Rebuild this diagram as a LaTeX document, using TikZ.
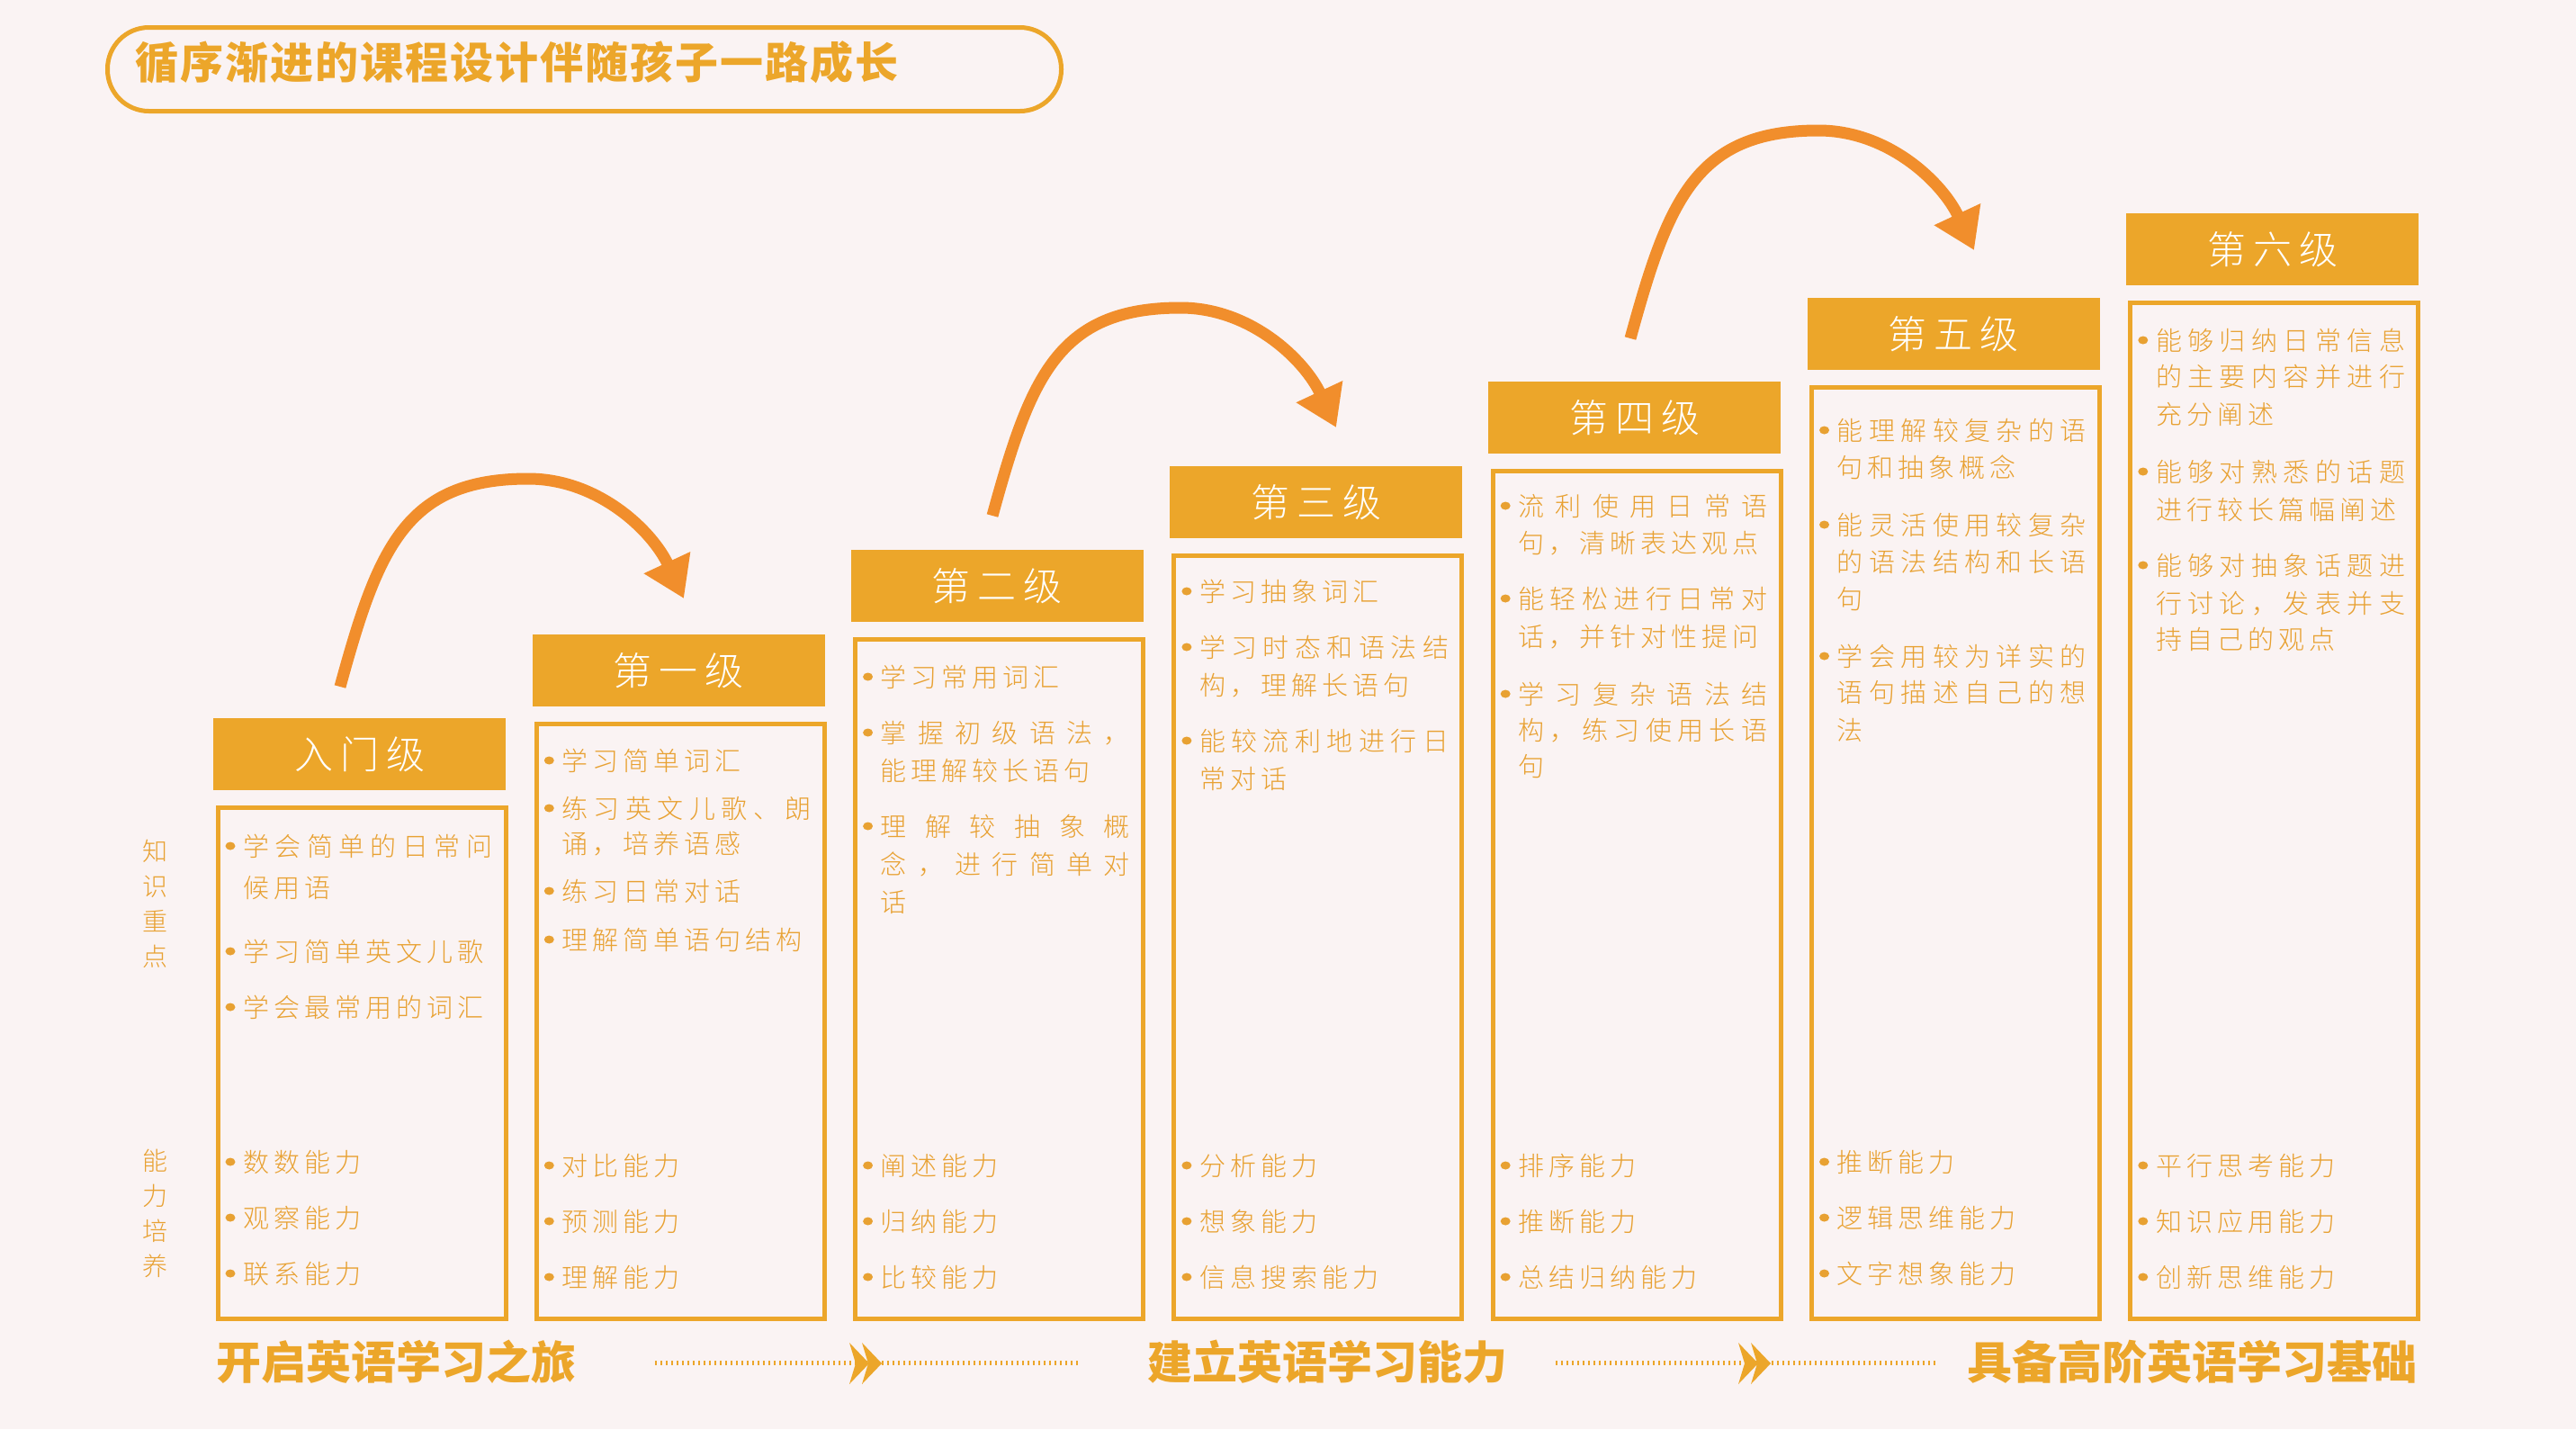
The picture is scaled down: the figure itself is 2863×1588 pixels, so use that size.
\documentclass[tikz,border=0pt]{standalone}
\usepackage{fontspec}
\newfontfamily\cjk{Noto Sans CJK SC}
\IfFontExistsTF{Noto Sans CJK SC Light}{\newfontfamily\cjklt{Noto Sans CJK SC Light}}{\newfontfamily\cjklt{Noto Sans CJK SC}}
\usetikzlibrary{arrows.meta}
\definecolor{bg}{RGB}{250,243,243}
\definecolor{hdr}{RGB}{236,166,42}
\definecolor{txt}{RGB}{232,161,50}
\definecolor{arr}{RGB}{241,142,44}
\newdimen\cjkgap
\cjkgap=5pt
\ExplSyntaxOn
\bool_new:N \l_cjkfirst_bool
\NewDocumentCommand\cjkl{m}{
  \bool_set_true:N \l_cjkfirst_bool
  \tl_map_inline:nn {#1}{
    \bool_if:NTF \l_cjkfirst_bool {\bool_set_false:N \l_cjkfirst_bool}{\hskip\cjkgap plus 1fil\relax}
    ##1}
}
\ExplSyntaxOff
\tikzset{
  body/.style={text=txt, font=\cjklt\fontsize{29}{34}\selectfont, inner sep=0pt, anchor=base west},
  hdrbox/.style={fill=hdr, draw=none, inner sep=0pt, minimum width=325pt, minimum height=80pt, anchor=north west,
                 text=white, font=\cjklt\fontsize{43}{48}\selectfont},
  bodybox/.style={draw=hdr, line width=5pt, inner sep=0pt, minimum width=320pt, anchor=north west},
  sidelabel/.style={text=txt, font=\cjklt\fontsize{28}{39}\selectfont, align=center, inner sep=0pt},
  bigtxt/.style={text=hdr, font=\cjk\bfseries\fontsize{50}{60}\selectfont, inner sep=0pt, anchor=base west},
  curvearrow/.style={draw=arr, line width=13pt, -{Triangle[width=54pt,length=44pt]}},
  dotline/.style={draw=hdr, line width=5pt, dash pattern=on 2pt off 4pt},
}
\newcommand\bitem[4]{%
  \fill[txt] ({237+354.3*#2+19},#3) ellipse [x radius=5.5pt, y radius=4.5pt];
  \node[body] (#1) at ({237+354.3*#2+33},{#3+11}) {\cjkl{#4}};}
\newcommand\bjust[4]{%
  \fill[txt] ({237+354.3*#2+19},#3) ellipse [x radius=5.5pt, y radius=4.5pt];
  \node[body] (#1) at ({237+354.3*#2+33},{#3+11}) {\makebox[277pt][s]{\cjkl{#4}}};}
\newcommand\cjust[4]{%
  \node[body] (#1) at ({237+354.3*#2+33},{#3+11}) {\makebox[277pt][s]{\cjkl{#4}}};}
\newcommand\cplain[4]{%
  \node[body] (#1) at ({237+354.3*#2+33},{#3+11}) {\cjkl{#4}};}
\begin{document}
\begin{tikzpicture}[x=1pt,y=-1pt]
\fill[bg] (0,0) rectangle (2863,1588);
\useasboundingbox (0,0) rectangle (2863,1588);

% title
\node[draw=hdr, line width=5pt, rounded corners=46pt, minimum width=1060pt, minimum height=93pt, anchor=north west, inner sep=0pt] (pill) at (117,28) {};
\node[text=hdr, font=\cjk\bfseries\fontsize{48}{56}\selectfont, inner sep=0pt, anchor=base west] (ttl) at (150,87) {\cjkgap=2pt\cjkl{循序渐进的课程设计伴随孩子一路成长}};

% headers and boxes
\foreach \i/\nm in {0/入门级,1/第一级,2/第二级,3/第三级,4/第四级,5/第五级,6/第六级}{
  \node[hdrbox] (h\i) at ({237+354.3*\i},{798-93.5*\i}) {\cjkgap=8pt\expandafter\cjkl\expandafter{\nm}};
  \node[bodybox, minimum height={568+93.5*\i}] (b\i) at ({237+354.3*\i+2.5},{895-93.5*\i}) {};
}

% side labels
\node[sidelabel] (k1) at (172,1004) {知\\识\\重\\点};
\node[sidelabel] (k2) at (172,1348) {能\\力\\培\\养};

% column 0
\bjust{c0a}{0}{940}{学会简单的日常问}
\cplain{c0b}{0}{986}{候用语}
\bitem{c0c}{0}{1057}{学习简单英文儿歌}
\bitem{c0d}{0}{1119}{学会最常用的词汇}
\bitem{c0e}{0}{1291}{数数能力}
\bitem{c0f}{0}{1353}{观察能力}
\bitem{c0g}{0}{1415}{联系能力}
% column 1
\bitem{c1a}{1}{845}{学习简单词汇}
\bjust{c1b}{1}{898}{练习英文儿歌、朗}
\cplain{c1c}{1}{937}{诵，培养语感}
\bitem{c1d}{1}{990}{练习日常对话}
\bitem{c1e}{1}{1044}{理解简单语句结构}
\bitem{c1f}{1}{1295}{对比能力}
\bitem{c1g}{1}{1357}{预测能力}
\bitem{c1h}{1}{1419}{理解能力}
% column 2
\bitem{c2a}{2}{752}{学习常用词汇}
\bjust{c2b}{2}{814}{掌握初级语法，}
\cplain{c2c}{2}{856}{能理解较长语句}
\bjust{c2d}{2}{918}{理解较抽象概}
\cjust{c2e}{2}{960}{念，进行简单对}
\cplain{c2f}{2}{1002}{话}
\bitem{c2g}{2}{1295}{阐述能力}
\bitem{c2h}{2}{1357}{归纳能力}
\bitem{c2i}{2}{1419}{比较能力}
% column 3
\bitem{c3a}{3}{657}{学习抽象词汇}
\bjust{c3b}{3}{719}{学习时态和语法结}
\cplain{c3c}{3}{761}{构，理解长语句}
\bjust{c3d}{3}{823}{能较流利地进行日}
\cplain{c3e}{3}{865}{常对话}
\bitem{c3f}{3}{1295}{分析能力}
\bitem{c3g}{3}{1357}{想象能力}
\bitem{c3h}{3}{1419}{信息搜索能力}
% column 4
\bjust{c4a}{4}{562}{流利使用日常语}
\cplain{c4b}{4}{603}{句，清晰表达观点}
\bjust{c4c}{4}{665}{能轻松进行日常对}
\cplain{c4d}{4}{707}{话，并针对性提问}
\bjust{c4e}{4}{771}{学习复杂语法结}
\cjust{c4f}{4}{811}{构，练习使用长语}
\cplain{c4g}{4}{851}{句}
\bitem{c4h}{4}{1295}{排序能力}
\bitem{c4i}{4}{1357}{推断能力}
\bitem{c4j}{4}{1419}{总结归纳能力}
% column 5
\bjust{c5a}{5}{478}{能理解较复杂的语}
\cplain{c5b}{5}{519}{句和抽象概念}
\bjust{c5c}{5}{583}{能灵活使用较复杂}
\cjust{c5d}{5}{624}{的语法结构和长语}
\cplain{c5e}{5}{665}{句}
\bjust{c5f}{5}{729}{学会用较为详实的}
\cjust{c5g}{5}{769}{语句描述自己的想}
\cplain{c5h}{5}{811}{法}
\bitem{c5i}{5}{1291}{推断能力}
\bitem{c5j}{5}{1353}{逻辑思维能力}
\bitem{c5k}{5}{1415}{文字想象能力}
% column 6
\bjust{c6a}{6}{378}{能够归纳日常信息}
\cjust{c6b}{6}{418}{的主要内容并进行}
\cplain{c6c}{6}{460}{充分阐述}
\bjust{c6d}{6}{524}{能够对熟悉的话题}
\cplain{c6e}{6}{566}{进行较长篇幅阐述}
\bjust{c6f}{6}{628}{能够对抽象话题进}
\cjust{c6g}{6}{670}{行讨论，发表并支}
\cplain{c6h}{6}{710}{持自己的观点}
\bitem{c6i}{6}{1295}{平行思考能力}
\bitem{c6j}{6}{1357}{知识应用能力}
\bitem{c6k}{6}{1419}{创新思维能力}

% curved arrows
\foreach \k/\dx/\dy in {1/0/0,2/725/-190,3/1434/-387}{
  \begin{scope}[shift={(\dx,\dy)}]
    \coordinate (as\k) at (378,763);
    \coordinate (ae\k) at (760,665);
    \draw[curvearrow] (as\k) .. controls (420,610) and (450,532) .. (587,532)
      .. controls (665,532) and (725,590) .. (ae\k);
  \end{scope}
}

% bottom labels
\node[bigtxt] (L1) at (240,1532) {开启英语学习之旅};
\node[bigtxt] (L2) at (1275,1532) {建立英语学习能力};
\node[bigtxt] (L3) at (2186,1532) {具备高阶英语学习基础};

% dotted connectors with double chevrons
\coordinate (d1s) at (728,1514);
\coordinate (d1e) at (1198,1514);
\coordinate (d2s) at (1729,1514);
\coordinate (d2e) at (2152,1514);
\draw[dotline] (d1s) -- (d1e);
\draw[dotline] (d2s) -- (d2e);
\foreach \cx in {944,958,1932,1946}{
  \fill[hdr] (\cx,1492) -- ({\cx+22},1515) -- (\cx,1538) -- ({\cx+7},1515) -- cycle;
}
\end{tikzpicture}
\end{document}
